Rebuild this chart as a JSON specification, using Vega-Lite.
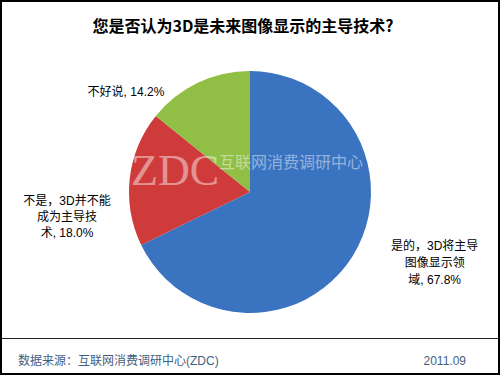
{
  "$schema": "https://vega.github.io/schema/vega-lite/v6.json",
  "width": 500,
  "height": 375,
  "autosize": {"type": "fit", "contains": "padding"},
  "padding": 0,
  "background": "white",
  "config": {"view": {"stroke": null}},
  "title": {
    "text": "您是否认为3D是未来图像显示的主导技术?",
    "anchor": "middle",
    "offset": -43,
    "baseline": "middle",
    "dx": -7,
    "font": "Noto Sans CJK SC",
    "fontSize": 16,
    "fontWeight": "bold",
    "color": "black"
  },
  "data": {
    "values": [
      {"cat": "是的，3D将主导图像显示领域", "value": 67.8, "label": "是的，3D将主导\n图像显示领\n域, 67.8%"},
      {"cat": "不是，3D并不能成为主导技术", "value": 18.0, "label": "不是，3D并不能\n成为主导技\n术, 18.0%"},
      {"cat": "不好说", "value": 14.2, "label": "不好说, 14.2%"}
    ]
  },
  "layer": [
    {
      "mark": {"type": "arc", "outerRadius": 121, "y": {"expr": "height/2+4.5"}},
      "encoding": {
        "theta": {"field": "value", "type": "quantitative", "stack": true},
        "color": {
          "field": "cat",
          "type": "nominal",
          "scale": {
            "domain": ["是的，3D将主导图像显示领域", "不是，3D并不能成为主导技术", "不好说"],
            "range": ["#3a73c0", "#cf3b3b", "#91be45"]
          },
          "legend": null
        },
        "order": {"field": "value", "type": "quantitative", "sort": "descending"}
      }
    },
    {
      "mark": {"type": "text", "radius": 160, "dx": 49, "dy": -26, "fontSize": 12, "font": "Liberation Sans, Noto Sans CJK SC", "lineBreak": "\n", "lineHeight": 17, "align": "center", "baseline": "middle", "color": "black"},
      "encoding": {
        "theta": {"field": "value", "type": "quantitative", "stack": true},
        "detail": {"field": "cat", "type": "nominal"},
        "order": {"field": "value", "type": "quantitative", "sort": "descending"},
        "text": {"condition": {"test": "datum.cat === '是的，3D将主导图像显示领域'", "field": "label"}, "value": ""}
      }
    },
    {
      "mark": {"type": "text", "radius": 160, "dx": -24, "dy": 32, "fontSize": 12, "font": "Liberation Sans, Noto Sans CJK SC", "lineBreak": "\n", "lineHeight": 16, "align": "center", "baseline": "middle", "color": "black"},
      "encoding": {
        "theta": {"field": "value", "type": "quantitative", "stack": true},
        "detail": {"field": "cat", "type": "nominal"},
        "order": {"field": "value", "type": "quantitative", "sort": "descending"},
        "text": {"condition": {"test": "datum.cat === '不是，3D并不能成为主导技术'", "field": "label"}, "value": ""}
      }
    },
    {
      "mark": {"type": "text", "radius": 160, "dx": -55, "dy": 49, "fontSize": 12, "font": "Liberation Sans, Noto Sans CJK SC", "lineBreak": "\n", "align": "center", "baseline": "middle", "color": "black"},
      "encoding": {
        "theta": {"field": "value", "type": "quantitative", "stack": true},
        "detail": {"field": "cat", "type": "nominal"},
        "order": {"field": "value", "type": "quantitative", "sort": "descending"},
        "text": {"condition": {"test": "datum.cat === '不好说'", "field": "label"}, "value": ""}
      }
    },
    {
      "data": {"values": [{"t": "ZDC"}]},
      "mark": {"type": "text", "dx": -75, "dy": -3, "align": "center", "baseline": "alphabetic", "font": "Liberation Serif", "fontSize": 44, "color": "white", "opacity": 0.45},
      "encoding": {"text": {"field": "t", "type": "nominal"}}
    },
    {
      "data": {"values": [{"t": "互联网消费调研中心"}]},
      "mark": {"type": "text", "dx": 41, "dy": -25, "align": "center", "baseline": "middle", "font": "Noto Sans CJK SC", "fontSize": 16, "color": "white", "opacity": 0.45},
      "encoding": {"text": {"field": "t", "type": "nominal"}}
    },
    {
      "data": {"values": [{}]},
      "mark": {"type": "rule", "color": "#222222", "strokeWidth": 1},
      "encoding": {"x": {"value": 0}, "x2": {"value": "width"}, "y": {"value": 337.5}}
    },
    {
      "data": {"values": [{}]},
      "mark": {"type": "rect", "fill": null, "stroke": "black", "strokeWidth": 2},
      "encoding": {"x": {"value": 0}, "x2": {"value": "width"}, "y": {"value": 0}, "y2": {"value": "height"}}
    },
    {
      "data": {"values": [{"t": "数据来源：互联网消费调研中心(ZDC)"}]},
      "mark": {"type": "text", "x": 17, "y": {"expr": "height-13"}, "align": "left", "baseline": "middle", "font": "Liberation Sans, Noto Sans CJK SC", "fontSize": 12, "color": "#3f5f82"},
      "encoding": {"text": {"field": "t", "type": "nominal"}}
    },
    {
      "data": {"values": [{"t": "2011.09"}]},
      "mark": {"type": "text", "x": {"expr": "width-33"}, "y": {"expr": "height-13"}, "align": "right", "baseline": "middle", "font": "Liberation Sans, Noto Sans CJK SC", "fontSize": 12, "color": "#3f5f82"},
      "encoding": {"text": {"field": "t", "type": "nominal"}}
    }
  ]
}
